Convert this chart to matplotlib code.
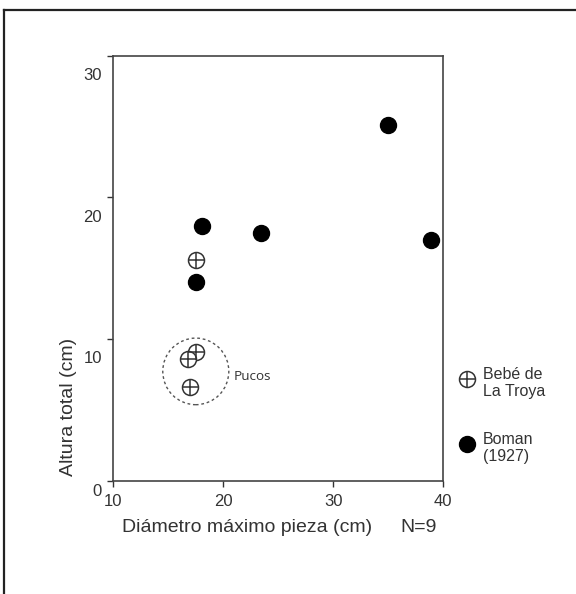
import matplotlib
matplotlib.use("Agg")
import matplotlib.pyplot as plt
from matplotlib.patches import Ellipse
from matplotlib.lines import Line2D
import matplotlib.transforms as mtransforms

plt.rcParams['font.family'] = ['Liberation Sans', 'DejaVu Sans']

# Data
boman_x = [18.1, 23.45, 35.0, 38.85, 17.5]
boman_y = [18.0, 17.5, 25.1, 17.0, 14.0]
bebe_x = [17.5, 17.55, 16.8, 16.95]
bebe_y = [15.55, 9.1, 8.6, 6.6]
x_ticks = [10, 20, 30, 40]
y_ticks = [0, 10, 20, 30]
legend_labels = ["Bebé de\nLa Troya", "Boman\n(1927)"]

fig = plt.figure(figsize=(5.76, 5.94), dpi=100)
ax = fig.add_axes([113/576, 1-480.5/594, (443.3-113)/576, (480.5-55.5)/594])

ax.set_xlim(10, 40)
ax.set_ylim(0, 30)

ax.plot(boman_x, boman_y, 'o', color='black', markersize=11.5, linestyle='none', zorder=3)
ax.plot(bebe_x, bebe_y, 'o', markerfacecolor='white', markeredgecolor='#333333',
        markeredgewidth=1.1, markersize=11.5, linestyle='none', zorder=4)
ax.plot(bebe_x, bebe_y, '+', color='#333333', markeredgewidth=1.1, markersize=11.5,
        linestyle='none', zorder=5)

# Pucos circle
ell = Ellipse((17.52, 7.7), width=6.0, height=4.7, fill=False, edgecolor='#555555',
              linestyle=(0, (2, 2)), linewidth=1.0, zorder=2)
ax.add_patch(ell)
ax.text(20.95, 7.35, "Pucos", fontsize=9.7, color='#333333', family=['Open Sans', 'DejaVu Sans'],
        va='center', ha='left')

ax.set_xticks(x_ticks)
ax.set_yticks(y_ticks)
ax.tick_params(direction='out', length=4, width=1, color='#333333', labelsize=12,
               labelcolor='#333333')
ax.tick_params(axis='x', pad=6)
ax.tick_params(axis='y', pad=4)
for sp in ax.spines.values():
    sp.set_color('#444444')
    sp.set_linewidth(1.2)

for lab, dy in zip(ax.get_yticklabels(), [10, 18, 19, 19]):
    off = mtransforms.ScaledTranslation(0, -dy/100, fig.dpi_scale_trans)
    lab.set_transform(lab.get_transform() + off)

ax.set_ylabel("Altura total (cm)", fontsize=14, color='#333333')
ax.yaxis.set_label_coords(-0.109, 0.173)

fig.text(122/576, 1-527/594, "Diámetro máximo pieza (cm)", fontsize=14, color='#333333',
         ha='left', va='center')
fig.text(400/576, 1-527/594, "N=9", fontsize=14, color='#333333', ha='left', va='center')

# Legend (manual, outside axes)
fig.lines.append(Line2D([467.3/576], [1-379.3/594], marker='o', markersize=11.5,
                        markerfacecolor='white', markeredgecolor='#333333', markeredgewidth=1.1,
                        transform=fig.transFigure, linestyle='none'))
fig.lines.append(Line2D([467.3/576], [1-379.3/594], marker='+', markersize=11.5,
                        color='#333333', markeredgewidth=1.1,
                        transform=fig.transFigure, linestyle='none'))
fig.lines.append(Line2D([467.3/576], [1-444.3/594], marker='o', markersize=11.5,
                        color='black', transform=fig.transFigure, linestyle='none'))
fig.text(483/576, 1-383/594, legend_labels[0], fontsize=11.5, color='#333333',
         ha='left', va='center', linespacing=1.15)
fig.text(483/576, 1-448/594, legend_labels[1], fontsize=11.5, color='#333333',
         ha='left', va='center', linespacing=1.15)

# Figure border (left and top)
fig.lines.append(Line2D([4/576, 4/576], [0, 1-9.5/594], color='#222222', linewidth=1.6,
                        transform=fig.transFigure))
fig.lines.append(Line2D([4/576, 1], [1-9.5/594, 1-9.5/594], color='#222222', linewidth=1.6,
                        transform=fig.transFigure))

fig.savefig("out.png", dpi=100)
